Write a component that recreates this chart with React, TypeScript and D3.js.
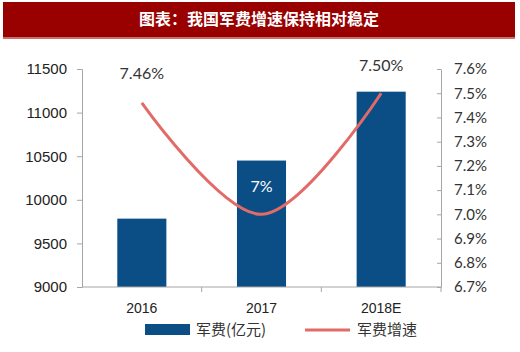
import React, { useEffect, useRef } from "react";
import * as d3 from "d3";

const categories = ["2016", "2017", "2018E"];
const spending = [9784, 10450, 11240];
const growth = [7.46, 7.0, 7.5];
const growthLabels = ["7.46%", "7%", "7.50%"];
const leftTicks = [9000, 9500, 10000, 10500, 11000, 11500];
const rightTicks = [6.7, 6.8, 6.9, 7.0, 7.1, 7.2, 7.3, 7.4, 7.5, 7.6];

const W = 520, H = 352;
const BAR = "#0b4e86";
const LINE = "#e26b68";
const AXIS = "#a6a6a6";
const LABEL_FONT = "Lato, 'Open Sans', sans-serif";

const App = () => {
  const ref = useRef<SVGSVGElement>(null);

  useEffect(() => {
    const svg = d3.select(ref.current);
    svg.selectAll("*").remove();

    const left = 82, right = 441, top = 69, bottom = 287;

    svg.append("rect").attr("width", W).attr("height", H).attr("fill", "#fff");

    // title banner
    svg.append("rect").attr("x", 3).attr("y", 2).attr("width", 512).attr("height", 36).attr("fill", "#990000");
    svg.append("rect").attr("x", 3).attr("y", 37).attr("width", 512).attr("height", 2).attr("fill", "#c8706e");
    svg.append("text")
      .attr("x", 259).attr("y", 25)
      .attr("text-anchor", "middle")
      .attr("fill", "#fff")
      .attr("font-family", "'Noto Sans CJK SC', sans-serif")
      .attr("font-weight", "bold")
      .attr("font-size", 16)
      .text("图表：我国军费增速保持相对稳定");

    const x = d3.scaleBand().domain(categories).range([left, right]).paddingInner(0.59).paddingOuter(0.295);
    const xOuter = d3.scaleBand().domain(categories).range([left, right]);
    const yL = d3.scaleLinear().domain([9000, 11500]).range([bottom, top]);
    const yR = d3.scaleLinear().domain([6.7, 7.6]).range([bottom, top]);

    // bars
    svg.append("g").selectAll("rect")
      .data(categories)
      .join("rect")
      .attr("x", (d) => x(d)!)
      .attr("width", x.bandwidth())
      .attr("y", (d, i) => yL(spending[i]))
      .attr("height", (d, i) => bottom - yL(spending[i]))
      .attr("fill", BAR);

    // left axis
    const gl = svg.append("g").attr("transform", `translate(${left},0)`)
      .call(d3.axisLeft(yL).tickValues(leftTicks).tickSize(5).tickPadding(10).tickFormat(d3.format("d")));
    gl.select(".domain").attr("stroke", AXIS);
    gl.selectAll(".tick line").attr("stroke", AXIS);
    gl.selectAll("text").attr("font-family", "'Liberation Sans', Arial, sans-serif").attr("font-size", 15).attr("fill", "#222");

    // right axis
    const gr = svg.append("g").attr("transform", `translate(${right},0)`)
      .call(d3.axisRight(yR).tickValues(rightTicks).tickSizeInner(-4).tickSizeOuter(0).tickPadding(13)
        .tickFormat((d) => (d as number).toFixed(1) + "%"));
    gr.select(".domain").attr("stroke", AXIS);
    gr.selectAll(".tick line").attr("stroke", AXIS);
    gr.selectAll("text").attr("font-family", LABEL_FONT).attr("font-size", 15).attr("fill", "#333");

    // bottom axis
    svg.append("line").attr("x1", left).attr("x2", right).attr("y1", bottom).attr("y2", bottom).attr("stroke", AXIS);
    svg.append("g").selectAll("line")
      .data(categories.slice(1).concat(["end"]))
      .join("line")
      .attr("x1", (d, i) => xOuter(categories[i])! + xOuter.bandwidth())
      .attr("x2", (d, i) => xOuter(categories[i])! + xOuter.bandwidth())
      .attr("y1", bottom).attr("y2", bottom + 5)
      .attr("stroke", AXIS);
    svg.append("g").selectAll("text")
      .data(categories)
      .join("text")
      .attr("x", (d) => x(d)! + x.bandwidth() / 2)
      .attr("y", 313)
      .attr("text-anchor", "middle")
      .attr("font-family", "'Liberation Sans', Arial, sans-serif")
      .attr("font-size", 14)
      .attr("fill", "#222")
      .text((d) => d);

    // growth line
    const line = d3.line<number>()
      .x((d, i) => x(categories[i])! + x.bandwidth() / 2)
      .y((d) => yR(d))
      .curve(d3.curveCatmullRom.alpha(0.5));
    svg.append("path").datum(growth).attr("d", line)
      .attr("fill", "none").attr("stroke", LINE).attr("stroke-width", 3);

    // data labels
    const labelY = [yR(growth[0]) - 24, yR(growth[1]) - 22, yR(growth[2]) - 22];
    svg.append("g").selectAll("text")
      .data(growthLabels)
      .join("text")
      .attr("x", (d, i) => x(categories[i])! + x.bandwidth() / 2)
      .attr("y", (d, i) => labelY[i])
      .attr("text-anchor", "middle")
      .attr("font-family", LABEL_FONT)
      .attr("font-size", 16)
      .attr("fill", (d, i) => (i === 1 ? "#fff" : "#333"))
      .text((d) => d);

    // legend
    const lg = svg.append("g").attr("font-family", "'Noto Sans CJK SC', sans-serif").attr("font-size", 15).attr("fill", "#333");
    lg.append("rect").attr("x", 145).attr("y", 324).attr("width", 45).attr("height", 11).attr("fill", BAR);
    lg.append("text").attr("x", 196).attr("y", 335).text("军费(亿元)");
    lg.append("line").attr("x1", 305).attr("x2", 350).attr("y1", 330).attr("y2", 330).attr("stroke", LINE).attr("stroke-width", 3);
    lg.append("text").attr("x", 357).attr("y", 335).text("军费增速");
  }, []);

  return (
    <svg ref={ref} width={W} height={H} style={{ position: "absolute", left: 0, top: 0 }}></svg>
  );
};

export default App;
